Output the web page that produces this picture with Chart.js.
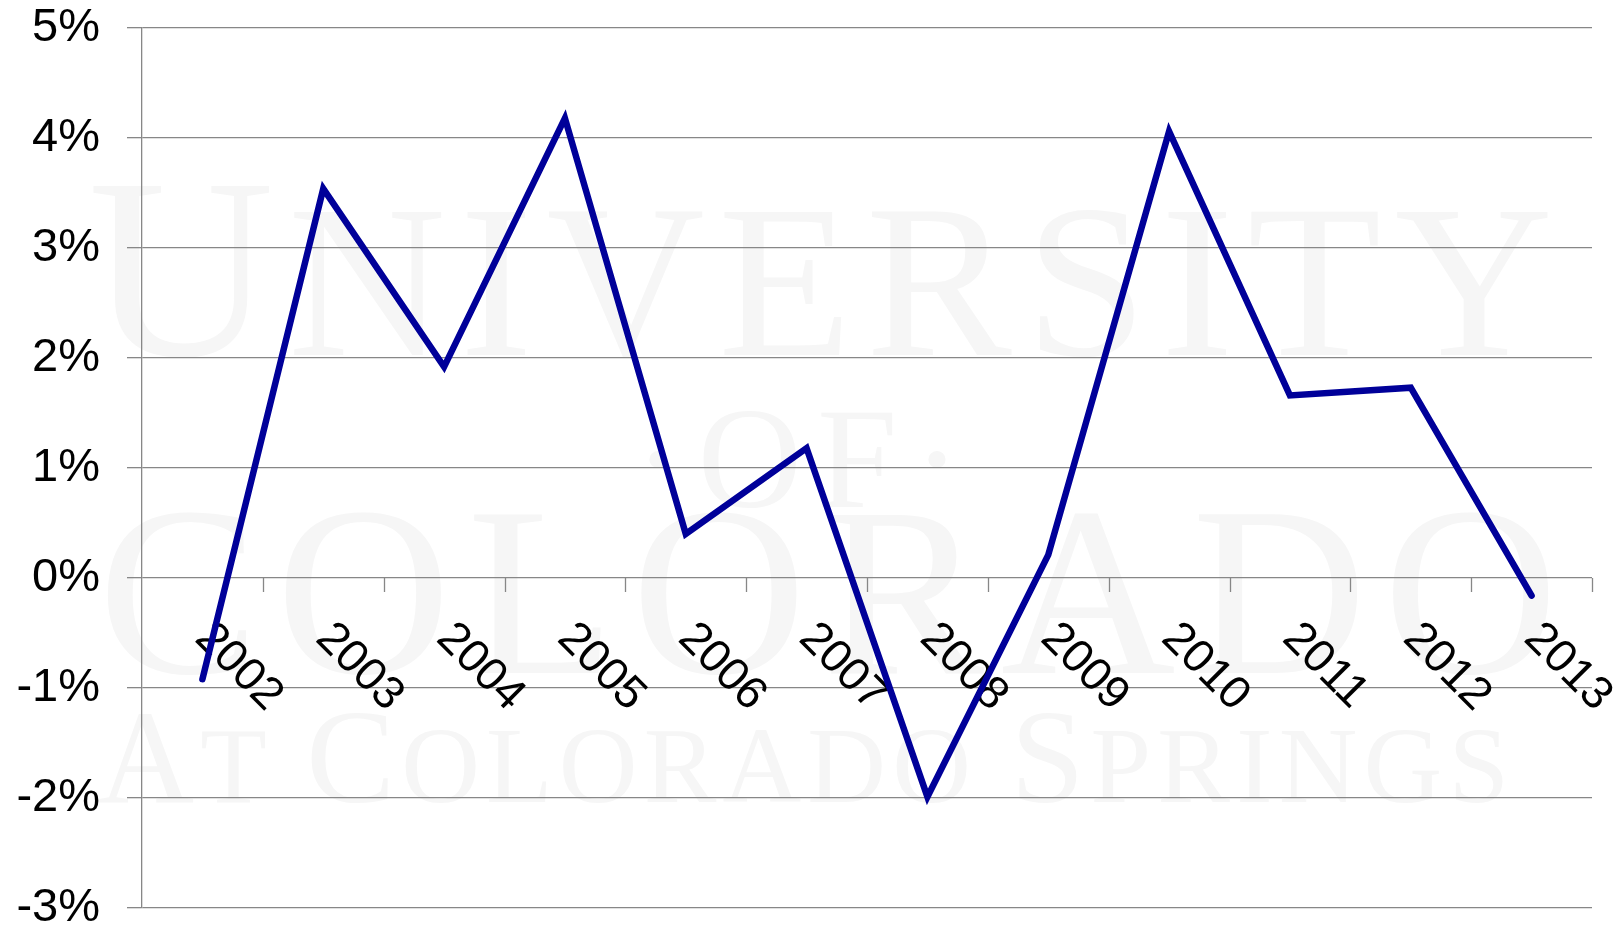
<!DOCTYPE html>
<html>
<head>
<meta charset="utf-8">
<script src="https://cdn.jsdelivr.net/npm/chart.js@4"></script>
<style>
  html, body { margin: 0; padding: 0; background: #fff; }
  #wrap { width: 1623px; height: 927px; }
</style>
</head>
<body>
<div id="wrap"><canvas id="growth-chart"></canvas></div>
<script>
// Annual growth, 2002-2013
const years = ['2002', '2003', '2004', '2005', '2006', '2007', '2008', '2009', '2010', '2011', '2012', '2013'];
const growth = [-0.92, 3.54, 1.92, 4.18, 0.40, 1.18, -1.99, 0.21, 4.06, 1.66, 1.73, -0.16];
const yMin = -3;
const yMax = 5;
const yStep = 1;

// Watermark lines: [text, font px] runs per line
const markLines = [
  { parts: [['U', 258], ['NIVERSITY', 219]], x: 88, base: 355, width: 1465 },
  { parts: [['\u00B7OF\u00B7', 144]], x: 634, base: 507, width: 327 },
  { parts: [['COLORADO', 242]], x: 98, base: 673, width: 1460 },
  { parts: [['A', 133], ['T ', 109], ['C', 133], ['OLORADO ', 109], ['S', 133], ['PRINGS', 109]], x: 98, base: 802, width: 1411 }
];

const GRID = '#878787';
const FONT = '"Liberation Sans", Arial, sans-serif';

function drawSpaced(ctx, parts, x, base, width) {
  const chars = [];
  parts.forEach(([t, px]) => { for (const ch of t) chars.push({ ch, px }); });
  let natural = 0;
  chars.forEach(c => {
    ctx.font = c.px + 'px "Liberation Serif", "DejaVu Serif", serif';
    c.w = ctx.measureText(c.ch).width;
    natural += c.w;
  });
  const gap = chars.length > 1 ? (width - natural) / (chars.length - 1) : 0;
  let cx = x;
  chars.forEach(c => {
    ctx.font = c.px + 'px "Liberation Serif", "DejaVu Serif", serif';
    ctx.fillText(c.ch, cx, base);
    cx += c.w + gap;
  });
}

const watermark = {
  id: 'watermark',
  beforeDraw(chart) {
    const ctx = chart.ctx;
    ctx.save();
    ctx.fillStyle = '#fff';
    ctx.fillRect(0, 0, chart.width, chart.height);
    ctx.fillStyle = '#f6f6f6';
    ctx.textAlign = 'left';
    ctx.textBaseline = 'alphabetic';
    markLines.forEach(l => drawSpaced(ctx, l.parts, l.x, l.base, l.width));
    ctx.restore();
  }
};

// x axis sits on the 0% line: short ticks between categories and slanted labels
const zeroAxis = {
  id: 'zeroAxis',
  beforeDatasetsDraw(chart) {
    const ctx = chart.ctx;
    const xs = chart.scales.x, ys = chart.scales.y;
    const y0 = ys.getPixelForValue(0);
    const step = xs.getPixelForValue(1) - xs.getPixelForValue(0);
    ctx.save();
    ctx.strokeStyle = GRID;
    ctx.lineWidth = 1.3;
    years.forEach((y, i) => {
      const bx = Math.round(xs.getPixelForValue(i) + step / 2) + 0.5;
      ctx.beginPath();
      ctx.moveTo(bx, y0);
      ctx.lineTo(bx, y0 + 14);
      ctx.stroke();
    });
    ctx.fillStyle = '#000';
    ctx.font = '46px ' + FONT;
    ctx.textAlign = 'left';
    ctx.textBaseline = 'middle';
    years.forEach((y, i) => {
      ctx.save();
      ctx.translate(xs.getPixelForValue(i), y0 + 53);
      ctx.rotate(Math.PI / 4);
      ctx.fillText(y, 0, 0);
      ctx.restore();
    });
    ctx.restore();
  }
};

const canvas = document.getElementById('growth-chart');
canvas._chart = new Chart(canvas.getContext('2d'), {
  type: 'line',
  data: {
    labels: years,
    datasets: [{
      label: 'Growth',
      data: growth,
      borderColor: '#000099',
      borderWidth: 6.5,
      borderCapStyle: 'round',
      borderJoinStyle: 'miter',
      pointRadius: 0,
      pointHoverRadius: 0,
      tension: 0,
      fill: false
    }]
  },
  options: {
    responsive: true,
    maintainAspectRatio: false,
    animation: false,
    layout: { padding: { left: 0, right: 31, top: 28, bottom: 19 } },
    plugins: { legend: { display: false }, tooltip: { enabled: false } },
    scales: {
      x: { type: 'category', display: false, offset: true },
      y: {
        min: yMin,
        max: yMax,
        afterFit(scale) {
          scale.width = 142;
          scale.paddingTop = 0;
          scale.paddingBottom = 0;
        },
        ticks: {
          stepSize: yStep,
          autoSkip: false,
          padding: 27,
          color: '#000',
          font: { family: FONT, size: 47, lineHeight: 1 },
          callback: v => v + '%'
        },
        grid: { color: GRID, lineWidth: 1.3, tickLength: 15, drawTicks: true },
        border: { display: true, color: GRID, width: 1.3 }
      }
    }
  },
  plugins: [watermark, zeroAxis]
});
</script>
</body>
</html>
